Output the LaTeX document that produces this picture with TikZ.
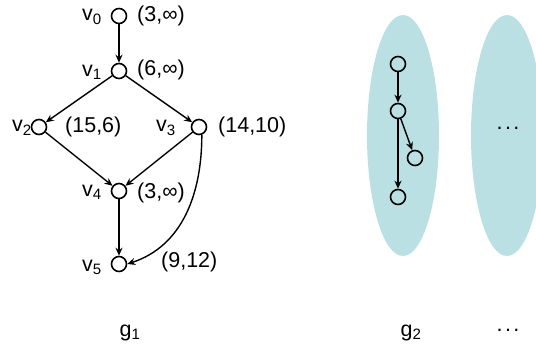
\documentclass[tikz,border=0pt]{standalone}
\usepackage{fontspec}
\setmainfont{Liberation Sans}
\usetikzlibrary{arrows.meta}
\definecolor{teal1}{RGB}{186,224,227}
\begin{document}
\begin{tikzpicture}[x=1pt,y=-1pt,
  vert/.style={circle,draw,line width=1.6pt,minimum size=15pt,inner sep=0pt},
  edge/.style={line width=1.4pt,-{Stealth[length=8pt,width=7pt]}},
  lab/.style={font=\fontsize{21.5}{24}\selectfont,inner sep=0pt}]
\useasboundingbox (0,0) rectangle (536,353);
% ellipses
\fill[teal1] (403,135.5) ellipse [x radius=36pt, y radius=120.5pt];
\fill[teal1] (507,135.5) ellipse [x radius=36pt, y radius=120.5pt];
% g1
\node[vert] (v0) at (119,16) {};
\node[vert] (v1) at (119,71) {};
\node[vert] (v2) at (39,127) {};
\node[vert] (v3) at (199,127) {};
\node[vert] (v4) at (119,191) {};
\node[vert] (v5) at (119,264) {};
\draw[edge] (v0) -- (v1);
\draw[edge] (v1) -- (v2);
\draw[edge] (v1) -- (v3);
\draw[edge] (v2) -- (v4);
\draw[edge] (v3) -- (v4);
\draw[edge] (v4) -- (v5);
\draw[edge] (v3.-70) to[out=-90,in=18] (v5.east);
% vertex names
\node[lab,anchor=east] (n0) at (102,17) {v\textsubscript{0}};
\node[lab,anchor=east] (n1) at (102,72) {v\textsubscript{1}};
\node[lab,anchor=east] (n2) at (32,128) {v\textsubscript{2}};
\node[lab,anchor=east] (n3) at (176,128) {v\textsubscript{3}};
\node[lab,anchor=east] (n4) at (102,192) {v\textsubscript{4}};
\node[lab,anchor=east] (n5) at (102,267) {v\textsubscript{5}};
% values
\node[lab,anchor=west] (w0) at (137,16) {(3,∞)};
\node[lab,anchor=west] (w1) at (137,70) {(6,∞)};
\node[lab,anchor=west] (w2) at (65,127) {(15,6)};
\node[lab,anchor=west] (w3) at (218,127) {(14,10)};
\node[lab,anchor=west] (w4) at (137,193) {(3,∞)};
\node[lab,anchor=west] (w5) at (161,262) {(9,12)};
% g2 small graph
\node[vert] (a) at (398,64) {};
\node[vert] (b) at (398,111) {};
\node[vert] (c) at (415,158) {};
\node[vert] (d) at (398,197) {};
\draw[edge] (a) -- (b);
\draw[edge] (b) -- (c);
\draw[edge] (b) -- (d);
% dots in second ellipse
\node[lab] (dd) at (508,128) {.\hspace{2.5pt}.\hspace{2.5pt}.};
% bottom labels
\node[lab] (g1) at (130,333) {g\textsubscript{1}};
\node[lab] (g2) at (411,333) {g\textsubscript{2}};
\node[lab] (g3) at (508,330) {.\hspace{2.5pt}.\hspace{2.5pt}.};
\end{tikzpicture}
\end{document}
